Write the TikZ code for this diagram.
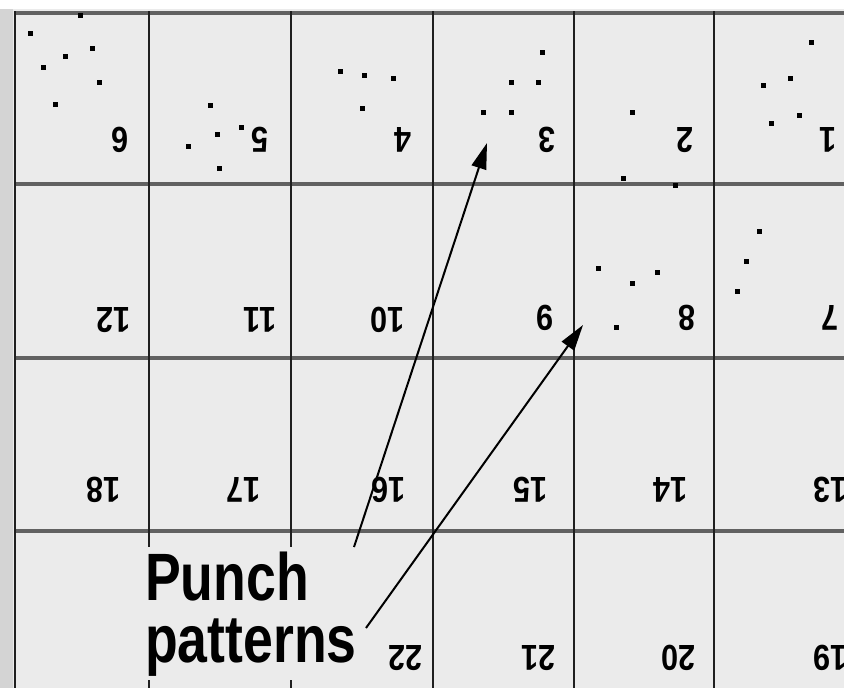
\documentclass[tikz,border=0pt]{standalone}
\usepackage{fontspec}
\setmainfont{Liberation Sans}
\usetikzlibrary{arrows.meta}

\begin{document}
\begin{tikzpicture}[
   x=1pt,y=-1pt,
   hole/.style={rectangle,fill=black,minimum size=5pt,inner sep=0pt},
   cellnum/.style={rotate=180,inner sep=0pt,xscale=0.85,font=\fontsize{36}{36}\selectfont\bfseries},
   hline/.style={black!62,line width=4pt},
   vline/.style={black!88,line width=2pt},
   pointer/.style={line width=2pt,-{Triangle[length=26pt,width=15pt]}}
 ]
  \useasboundingbox (0,0) rectangle (844,688);
  \fill[black!8] (0,0) rectangle (844,688);
  \fill[white] (0,0) rectangle (844,9);
  \fill[black!17] (0,9) rectangle (13,688);

  \foreach \y in {13,184,358,531}
    \draw[hline] (15,\y) -- (844,\y);
  \foreach \x in {15,149,291,433,574,714}
    \draw[vline] (\x,11) -- (\x,688);

  \foreach \n/\x/\y in {6/120/140,5/260/140,4/403/140,3/547/140,2/685/140,1/828/140,
      12/113/320,11/260/320,10/387/320,9/545/318,8/687/318,7/830/318,
      18/103/490,17/243/490,16/388/490,15/530/490,14/670/490,13/830/490,
      22/405/658,21/538/658,20/678/658,19/830/658}
    \node[cellnum] (n\n) at (\x,\y) {\n};

  \foreach \x/\y [count=\i] in {30/33,92/48,65/56,43/67,99/82,55/104,80/15,
      210/105,241/127,217/134,188/146,219/168,
      340/71,364/75,393/78,362/108,
      542/52,511/82,538/82,483/112,511/112,
      632/112,623/178,675/185,
      811/42,790/78,763/85,799/115,771/123,
      598/268,657/272,632/283,616/327,
      759/231,746/261,737/291}
    \node[hole] (h\i) at (\x,\y) {};

  \node[font=\fontsize{67}{62}\selectfont\bfseries,xscale=0.8,align=left,inner sep=4pt,fill=black!8,anchor=base west] (label) at (141.8,662) {Punch\\patterns};

  \coordinate (s1) at (354,547);
  \coordinate (s2) at (366,628);
  \coordinate (t1) at (487,143);
  \coordinate (t2) at (583,325);
  \draw[pointer] (s1) -- (t1);
  \draw[pointer] (s2) -- (t2);
 \end{tikzpicture}
\end{document}
